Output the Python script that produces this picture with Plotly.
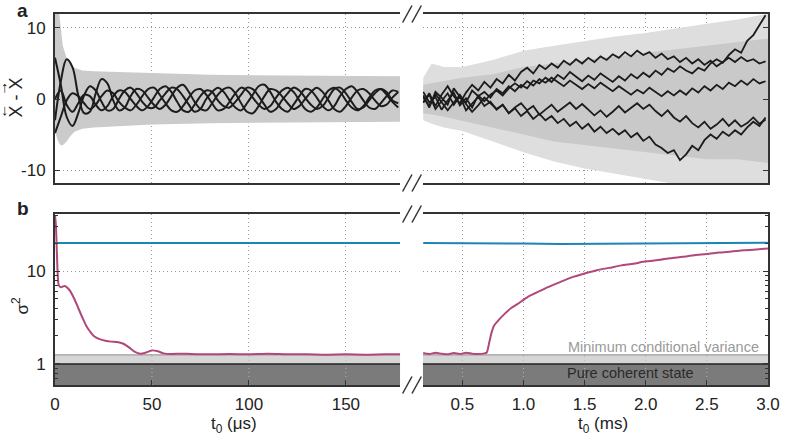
import plotly.graph_objects as go

# ---------------- data ----------------
# panel a, left: time in microseconds
t_left_us = list(range(0, 180, 3))
L1 = [-3.0, 2.5, 5.6, 4.5, 0.5, -2.0, -1.8, 0.8, 2.8, 2.2,
      -0.2, -1.6, -1.2, 0.4, 1.4, 1.2, 0.2, -0.8, -1.4, -0.8,
      0.4, 1.6, 2.0, 1.0, -0.4, -1.4, -1.6, -0.6, 0.6, 1.4,
      1.6, 0.8, -0.6, -1.8, -2.0, -1.0, 0.4, 1.4, 1.2, 0.4,
      -0.6, -1.4, -1.0, 0.0, 1.0, 1.6, 1.0, -0.2, -1.4, -1.8,
      -1.0, 0.2, 1.2, 1.4, 0.8, -0.2, -1.0, -0.8, 0.2, 1.0]
L2 = [5.8, 2.0, -2.5, -3.8, -2.0, 0.5, 1.8, 1.2, -0.4, -1.6,
      -1.4, 0.0, 1.2, 1.6, 0.8, -0.4, -1.2, -1.2, -0.2, 0.8,
      1.6, 1.4, 0.4, -0.8, -1.8, -1.4, 0.0, 1.0, 1.6, 1.0,
      -0.2, -1.2, -1.6, -0.6, 0.6, 1.8, 2.0, 1.0, -0.4, -1.4,
      -1.8, -0.8, 0.4, 1.4, 1.2, 0.2, -1.0, -1.6, -1.0, 0.4,
      1.4, 1.8, 1.0, -0.2, -1.2, -1.4, -0.6, 0.4, 1.2, 1.0]
L3 = [0.0, 1.2, -0.8, -1.8, -0.6, 0.6, 0.4, -0.8, -1.6, -1.0,
      0.4, 1.2, 1.0, 0.0, -1.0, -1.6, -1.0, 0.2, 1.4, 1.8,
      1.0, -0.4, -1.6, -1.8, -0.8, 0.4, 1.2, 1.0, -0.2, -1.0,
      -1.2, -0.4, 0.6, 1.6, 1.4, 0.4, -0.8, -1.8, -1.4, -0.2,
      0.8, 1.6, 1.2, 0.2, -0.8, -1.4, -1.0, 0.2, 1.4, 1.6,
      0.8, -0.4, -1.4, -1.2, -0.2, 0.8, 1.4, 1.0, -0.2, -0.6]
L4 = [-4.8, -2.5, -0.2, 0.8, 0.4, -0.6, -1.4, -0.8, 0.4, 1.2,
      0.8, -0.4, -1.2, -1.6, -0.8, 0.4, 1.4, 1.6, 0.6, -0.6,
      -1.6, -1.8, -1.0, 0.2, 1.2, 1.4, 0.6, -0.6, -1.6, -1.4,
      -0.4, 0.8, 1.6, 1.2, 0.2, -0.8, -1.4, -1.0, 0.2, 1.2,
      1.6, 1.0, -0.2, -1.4, -1.8, -1.2, 0.0, 1.2, 1.6, 1.0,
      -0.2, -1.2, -1.6, -1.0, 0.2, 1.2, 1.4, 0.6, -0.4, -1.2]

# ensemble envelope, left
env_left_t = [0, 1, 2, 3, 4, 6, 8, 10, 14, 20, 30, 50, 80, 120, 178]
env_left_up = [14, 14, 12.5, 10, 7.5, 5.8, 4.9, 4.4, 4.0, 3.9, 3.8, 3.6, 3.4, 3.3, 3.2]
env_left_lo = [-4.5, -5.5, -6.2, -6.5, -6.5, -6, -5.2, -4.6, -4.2, -4.0, -3.8, -3.6, -3.4, -3.3, -3.2]

# panel a, right: time in milliseconds
t_right_ms = [round(0.18 + 0.05 * i, 2) for i in range(57)]
R1 = [0.5, -1.2, 1.0, 0.2, -0.8, 1.5, 0.3, -0.5, 1.2, 0.4, 1.0,
      0.2, 1.4, 0.8, 1.8, 1.1, 2.0, 1.5, 2.6, 2.2, 3.0,
      2.4, 3.4, 2.8, 3.8, 3.1, 2.5, 3.3, 2.7, 3.6, 3.0,
      2.4, 3.2, 2.6, 3.5, 2.9, 3.7, 3.1, 4.0, 3.4, 4.3,
      3.8, 4.6, 4.0, 3.6, 4.4, 4.0, 5.0, 5.6, 5.1, 6.2,
      7.0, 6.5, 8.2, 9.0, 10.5, 11.8]
R2 = [-0.5, 0.8, -1.0, 0.6, 1.8, 0.4, -0.6, 0.9, 2.0, 1.2, 2.4,
      1.6, 2.8, 2.2, 3.4, 2.6, 3.8, 4.4, 3.6, 4.8, 4.2,
      5.0, 4.4, 5.4, 4.8, 5.6, 5.0, 5.8, 5.2, 6.0, 5.5,
      6.3, 5.8, 6.6, 6.0, 6.8, 6.2, 6.6, 5.8, 6.4, 5.6,
      6.0, 5.2, 5.8, 5.0, 5.6, 4.8, 5.4, 4.6, 5.2, 5.8,
      5.2, 5.9, 5.3, 5.6, 5.0, 5.3]
R3 = [1.0, -0.5, 0.3, -1.5, -0.2, 0.9, -0.9, 0.1, -1.2, 0.5, -0.3,
      0.6, 1.2, 0.5, 1.5, 2.2, 1.6, 2.5, 1.9, 2.8, 2.3,
      3.0, 2.4, 1.8, 2.6, 2.0, 1.4, 2.1, 1.5, 2.3, 1.7,
      1.1, 1.8, 1.2, 0.6, 1.3, 0.8, 1.6, 1.0, 0.4, 1.1,
      0.5, 1.2, 0.6, 1.5, 0.9, 1.8, 1.2, 2.0, 1.4, 2.3,
      1.8, 2.6, 2.0, 2.8, 2.2, 2.5]
R4 = [-0.5, 0.6, -1.4, -0.3, 0.8, -0.8, 0.4, -1.6, -0.6, 0.3, -1.0,
      -0.4, -1.5, -0.8, -2.0, -1.2, -0.6, -1.6, -1.0, -2.2, -1.5,
      -0.8, -1.8, -1.1, -0.5, -1.4, -0.7, -1.5, -2.3, -1.6, -2.5,
      -1.8, -1.0, -1.9, -1.2, -0.6, -1.4, -0.8, -1.7, -2.4, -1.6,
      -2.6, -3.2, -2.4, -3.4, -4.0, -3.2, -4.2, -3.6, -2.8, -3.8,
      -3.0, -3.9, -3.4, -2.6, -3.5, -2.9]
R5 = [0.2, -1.0, 0.7, -0.4, -1.6, -0.5, 0.6, -0.7, -1.8, -0.9, 0.2,
      -0.6, -1.4, -0.8, -2.0, -1.3, -2.4, -1.7, -2.8, -2.1, -3.0,
      -2.4, -3.4, -2.8, -3.8, -3.2, -4.2, -3.5, -4.6, -3.9, -4.8,
      -4.2, -5.0, -4.4, -5.4, -4.8, -5.9, -5.3, -6.4, -6.9, -7.6,
      -7.2, -8.6, -7.8, -6.6, -7.2, -5.8, -5.0, -5.6, -4.6, -5.2,
      -4.4, -5.0, -4.0, -3.2, -3.8, -2.6]

env_right_t = [0.18, 0.25, 0.35, 0.5, 0.75, 1.0, 1.25, 1.5, 1.75, 2.0, 2.25, 2.5, 2.75, 3.0]
env_right_up_outer = [3, 5, 4.5, 4.5, 5.5, 6.8, 7.5, 8.2, 8.8, 9.3, 10, 10.6, 11.2, 12]
env_right_lo_outer = [-3, -3.5, -4, -4.5, -6, -7.5, -8.8, -9.8, -10.6, -11.3, -12, -12.5, -12.5, -12.5]
env_right_up_inner = [2, 2.2, 2.5, 3, 3.5, 4.5, 5, 5.5, 6, 6.5, 7, 7.5, 8, 8.5]
env_right_lo_inner = [-2, -2.2, -2.5, -3, -4, -5, -6, -6.5, -7, -7.5, -8, -8.5, -8.5, -9]

# panel b
sig_left_t = [0, 0.5, 1, 1.5, 2, 3, 4, 5, 6, 7, 8, 10, 12, 14, 16, 18, 20, 23, 26, 29,
              32, 35, 38, 41, 44, 47, 50, 53, 56, 60, 65, 70, 80, 90, 100, 110, 120,
              130, 140, 150, 160, 170, 178]
sig_left_v = [40, 30, 15, 8.5, 7.0, 6.7, 6.8, 6.9, 6.7, 6.4, 6.0, 5.0, 4.0, 3.2, 2.6, 2.25,
              2.0, 1.85, 1.78, 1.74, 1.72, 1.66, 1.52, 1.36, 1.29, 1.33, 1.40, 1.37, 1.30,
              1.28, 1.29, 1.28, 1.27, 1.28, 1.27, 1.29, 1.27, 1.27, 1.26, 1.27, 1.26, 1.27, 1.27]
sig_right_t = [0.18, 0.23, 0.28, 0.33, 0.38, 0.43, 0.48, 0.53, 0.58, 0.63, 0.68, 0.70,
               0.72, 0.74, 0.76, 0.80, 0.85, 0.90, 0.95, 1.0, 1.05, 1.1, 1.2, 1.3, 1.4,
               1.5, 1.6, 1.7, 1.8, 1.9, 2.0, 2.1, 2.2, 2.3, 2.4, 2.5, 2.6, 2.7, 2.8, 2.9, 3.0]
sig_right_v = [1.31, 1.28, 1.32, 1.29, 1.27, 1.31, 1.28, 1.32, 1.29, 1.28, 1.30, 1.33,
               1.7, 2.2, 2.6, 3.0, 3.5, 4.0, 4.4, 4.9, 5.4, 5.8, 6.7, 7.6, 8.6,
               9.4, 10.2, 10.8, 11.5, 12.0, 12.7, 13.1, 13.7, 14.2, 14.8, 15.2, 15.8, 16.2,
               16.7, 17.0, 17.5]
base_left_t = [0, 60, 120, 178]
base_left_v = [20.0, 20.0, 20.0, 20.0]
base_right_t = [0.18, 0.5, 1.0, 1.3, 1.6, 2.0, 2.5, 3.0]
base_right_v = [20.0, 20.0, 19.7, 19.5, 19.6, 19.8, 20.0, 20.1]

min_cond_var = 1.25
coherent = 1.0
ticks_left = [0, 50, 100, 150]
ticks_right = [0.5, 1.0, 1.5, 2.0, 2.5, 3.0]

# ---------------- figure ----------------
W, H = 792, 439
ML, MR, MT, MB = 55, 14, 14, 54
PW, PH = W - ML - MR, H - MT - MB


def px(x):
    return (x - ML) / PW


def py(y):
    return (H - MB - y) / PH


XL_DOM = [0, px(405)]
XR_DOM = [px(428), 1]
YT_DOM = [py(183), 1]
YB_DOM = [0, py(214)]
XL_RANGE = [0, 178]
XR_RANGE = [0.177, 3.0]
YT_RANGE = [-11.83, 11.97]
YB_RANGE = [-0.226, 1.613]

GRAY = '#cbcbcb'
BLACK = '#1c1c1c'
BLUE = '#1d84b5'
MAG = '#b2477c'
FONT = 'Liberation Sans, Arial, sans-serif'
DOTS = '1px,3px'

fig = go.Figure()


def add(tr, xa, ya):
    tr.update(xaxis=xa, yaxis=ya, showlegend=False, hoverinfo='skip')
    fig.add_trace(tr)


# top-left ensemble
add(go.Scatter(x=env_left_t + env_left_t[::-1], y=env_left_up + env_left_lo[::-1],
               fill='toself', fillcolor=GRAY, line=dict(width=0), mode='lines'), 'x', 'y')
for s in (L1, L2, L3, L4):
    add(go.Scatter(x=t_left_us, y=s, mode='lines',
                   line=dict(color=BLACK, width=2, shape='spline', smoothing=1.0)), 'x', 'y')

# top-right ensemble
add(go.Scatter(x=env_right_t + env_right_t[::-1], y=env_right_up_outer + env_right_lo_outer[::-1],
               fill='toself', fillcolor='#dedede', line=dict(width=0), mode='lines'), 'x2', 'y2')
add(go.Scatter(x=env_right_t + env_right_t[::-1], y=env_right_up_inner + env_right_lo_inner[::-1],
               fill='toself', fillcolor='#c9c9c9', line=dict(width=0), mode='lines'), 'x2', 'y2')
for s in (R1, R2, R3, R4, R5):
    add(go.Scatter(x=t_right_ms, y=s, mode='lines', line=dict(color=BLACK, width=1.8)), 'x2', 'y2')

# bottom panels: bands, lines
for xa, ya, rng, tks in (('x3', 'y3', XL_RANGE, ticks_left), ('x4', 'y4', XR_RANGE, ticks_right)):
    x0, x1 = rng
    add(go.Scatter(x=[x0, x1, x1, x0], y=[0.4, 0.4, coherent, coherent], fill='toself',
                   fillcolor='#7b7b7b', line=dict(width=0), mode='lines'), xa, ya)
    add(go.Scatter(x=[x0, x1, x1, x0], y=[coherent, coherent, min_cond_var, min_cond_var],
                   fill='toself', fillcolor='#d6d6d6', line=dict(width=0), mode='lines'), xa, ya)
    add(go.Scatter(x=[x0, x1], y=[min_cond_var, min_cond_var], mode='lines',
                   line=dict(color='#9d9d9d', width=1.2)), xa, ya)
    for tv in (tks[:-1] if xa == 'x4' else tks[1:]):
        add(go.Scatter(x=[tv, tv], y=[0.4, min_cond_var], mode='lines',
                       line=dict(color='#b4b4b4', width=1, dash=DOTS)), xa, ya)
    add(go.Scatter(x=[x0, x1], y=[coherent, coherent], mode='lines',
                   line=dict(color='#222222', width=1.6)), xa, ya)

add(go.Scatter(x=base_left_t, y=base_left_v, mode='lines', line=dict(color=BLUE, width=2)), 'x3', 'y3')
add(go.Scatter(x=sig_left_t, y=sig_left_v, mode='lines',
               line=dict(color=MAG, width=2, shape='spline', smoothing=0.8)), 'x3', 'y3')
add(go.Scatter(x=base_right_t, y=base_right_v, mode='lines', line=dict(color=BLUE, width=2)), 'x4', 'y4')
add(go.Scatter(x=sig_right_t, y=sig_right_v, mode='lines',
               line=dict(color=MAG, width=2, shape='spline', smoothing=0.6)), 'x4', 'y4')

axis_common = dict(showline=True, linecolor='#333333', linewidth=2, ticks='inside',
                   tickcolor='#333333', ticklen=5, tickwidth=1, showgrid=True,
                   gridcolor='#999999', griddash=DOTS, gridwidth=1, zeroline=False,
                   tickfont=dict(family=FONT, size=17, color='#222222'))

minor_log = dict(ticks='inside', ticklen=3, tickcolor='#333333', showgrid=False,
                 tickvals=[0.6, 0.7, 0.8, 0.9, 2, 3, 4, 5, 6, 7, 8, 9, 20, 30, 40])

fig.update_layout(
    width=W, height=H, margin=dict(l=ML, r=MR, t=MT, b=MB),
    paper_bgcolor='white', plot_bgcolor='white',
    font=dict(family=FONT, size=17, color='#222222'),
    xaxis=dict(axis_common, domain=XL_DOM, range=XL_RANGE, anchor='y', mirror=True,
               tickvals=ticks_left, showticklabels=False, ticks=''),
    xaxis2=dict(axis_common, domain=XR_DOM, range=XR_RANGE, anchor='y2', mirror=True,
                tickvals=ticks_right, showticklabels=False, ticks=''),
    xaxis3=dict(axis_common, domain=XL_DOM, range=XL_RANGE, anchor='y3', mirror=True,
                tickvals=ticks_left, ticktext=[str(v) for v in ticks_left], ticklabelstandoff=3),
    xaxis4=dict(axis_common, domain=XR_DOM, range=XR_RANGE, anchor='y4', mirror=True,
                tickvals=ticks_right, ticktext=['%.1f' % v for v in ticks_right], ticklabelstandoff=3),
    yaxis=dict(axis_common, domain=YT_DOM, range=YT_RANGE, anchor='x',
               tickvals=[-10, 0, 10], ticktext=['-10', '0', '10'], ticklabelstandoff=4),
    yaxis2=dict(axis_common, domain=YT_DOM, range=YT_RANGE, anchor='x2', side='right',
                tickvals=[-10, 0, 10], showticklabels=False),
    yaxis3=dict(axis_common, domain=YB_DOM, range=YB_RANGE, anchor='x3', type='log',
                tickvals=[1, 10], ticktext=['1', '10'], minor=minor_log, ticklabelstandoff=4),
    yaxis4=dict(axis_common, domain=YB_DOM, range=YB_RANGE, anchor='x4', type='log', side='right',
                tickvals=[1, 10], showticklabels=False, minor=minor_log),
)

ann = []


def text(x, y, s, size=17, color='#222222', angle=0, bold=False):
    ann.append(dict(x=px(x), y=py(y), xref='paper', yref='paper', text=('<b>%s</b>' % s) if bold else s,
                    showarrow=False, textangle=angle, xanchor='center', yanchor='middle',
                    font=dict(family=FONT, size=size, color=color)))


text(22, 11, 'a', size=19, bold=True)
text(23, 209, 'b', size=19, bold=True)
# y title of panel a: X with arrows (left-pointing then right-pointing), rotated
text(15, 98, 'X - X', size=18, angle=-90)
text(4, 109, '\u2193', size=15)
text(4, 86, '\u2191', size=15)
text(20, 305, '\u03c3<sup>2</sup>', size=17, angle=-90)
text(237, 425, 't<sub>0</sub> (\u03bcs)', size=17)
text(611, 425, 't<sub>0</sub> (ms)', size=17)
text(672, 347, 'Minimum conditional variance', size=14.5, color='#9a9a9a')
text(639, 373, 'Pure coherent state', size=14.5, color='#2a2a2a')
fig.update_layout(annotations=ann)

# break marks
shapes = []
for yb in (14, 183, 214, 385):
    for xo in (407.5, 417):
        shapes.append(dict(type='line', xref='paper', yref='paper',
                           x0=px(xo), y0=py(yb + 8.5), x1=px(xo + 9.5), y1=py(yb - 8.5),
                           line=dict(color='#333333', width=1.5)))
fig.update_layout(shapes=shapes)

fig.write_html('out.html')
